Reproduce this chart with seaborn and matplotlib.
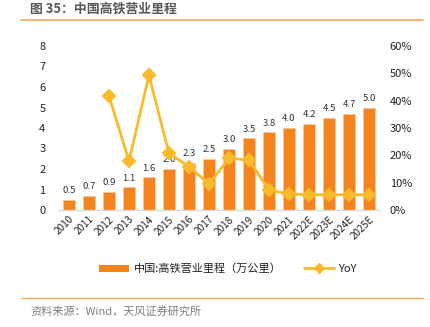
import matplotlib
matplotlib.use("Agg")
import matplotlib.pyplot as plt
import seaborn as sns
import numpy as np
import pandas as pd
from matplotlib.patches import Patch
from matplotlib.lines import Line2D
from matplotlib.ticker import PercentFormatter

years = ["2010", "2011", "2012", "2013", "2014", "2015", "2016", "2017", "2018",
         "2019", "2020", "2021", "2022E", "2023E", "2024E", "2025E"]
mileage = [0.5, 0.7, 0.9, 1.1, 1.6, 2.0, 2.3, 2.5, 3.0, 3.5, 3.8, 4.0, 4.2, 4.5, 4.7, 5.0]
yoy = [np.nan, np.nan, 41.7, 17.9, 49.3, 20.7, 15.9, 9.5, 18.9, 18.3, 7.3, 5.9, 5.6, 5.6, 5.6, 5.6]

bar_label = "中国:高铁营业里程（万公里）"
line_label = "YoY"
title = "图 35：中国高铁营业里程"
source = "资料来源：Wind，天风证券研究所"

sns.set_theme(style="white")
plt.rcParams['font.family'] = ['Noto Sans CJK SC', 'DejaVu Sans']

BAR = "#F5841F"
LINE = "#FBBA2A"
ACCENT = "#F8A55C"

df = pd.DataFrame({"year": years, "mileage": mileage, "yoy": yoy})

fig = plt.figure(figsize=(4.3, 3.27), dpi=100)
ax = fig.add_axes([58/430, 1-210/327, (380-58)/430, (210-46)/327])

sns.barplot(data=df, x="year", y="mileage", order=years, color=BAR, width=0.61,
            saturation=1, ax=ax, edgecolor="#FBC9A0", linewidth=0.5)
for i, v in enumerate(mileage):
    ax.text(i, v + 0.22, f"{v:.1f}", ha="center", va="bottom", fontsize=6.8, color="#333333")

ax.set_ylim(0, 8)
ax.set_yticks(range(0, 9))
ax.set_xlabel("")
ax.set_ylabel("")
for s in ["top", "left", "right"]:
    ax.spines[s].set_visible(False)
ax.spines["bottom"].set_color("#D9D9D9")
ax.spines["bottom"].set_linewidth(1.0)
ax.tick_params(axis="y", labelsize=8, colors="#222222", pad=9, length=0)
ax.tick_params(axis="x", labelsize=7.2, colors="#222222", pad=3, length=0)
for lab in ax.get_xticklabels():
    lab.set_rotation(45)
    lab.set_ha("right")
    lab.set_rotation_mode("anchor")

ax2 = ax.twinx()
sns.pointplot(data=df, x="year", y="yoy", order=years, color=LINE, markers="D",
              linestyles="-", errorbar=None, ax=ax2, markersize=6.5, linewidth=2)
ax2.set_ylim(0, 60)
ax2.set_yticks(range(0, 61, 10))
ax2.yaxis.set_major_formatter(PercentFormatter(decimals=0))
ax2.set_ylabel("")
ax2.set_xlabel("")
for s in ["top", "left", "right", "bottom"]:
    ax2.spines[s].set_visible(False)
ax2.tick_params(axis="y", labelsize=8, colors="#222222", pad=7, length=0)
ax.set_xlim(-0.55, 15.55)
ax2.set_xlim(-0.55, 15.55)

handles = [Patch(facecolor=BAR, edgecolor="none", label=bar_label),
           Line2D([0], [0], color=LINE, lw=2, marker="D", markersize=5, label=line_label)]
fig.legend(handles=handles, loc="center", bbox_to_anchor=(228/430, 1-269/327), ncol=2,
           frameon=False, fontsize=8, handlelength=2.7, columnspacing=2.0, handletextpad=0.4,
           labelcolor="#222222")

fig.add_artist(Line2D([21/430, 423/430], [1-20/327, 1-20/327], color=ACCENT, lw=1.2))
fig.add_artist(Line2D([21/430, 423/430], [1-298/327, 1-298/327], color=ACCENT, lw=1.0))
fig.text(30/430, 1-8.5/327, title, fontsize=9.3, color="#595959", va="center", ha="left",
         fontweight="bold")
fig.text(30/430, 1-311/327, source, fontsize=8, color="#7F7F7F", va="center", ha="left")

fig.savefig("out.png", dpi=100)
